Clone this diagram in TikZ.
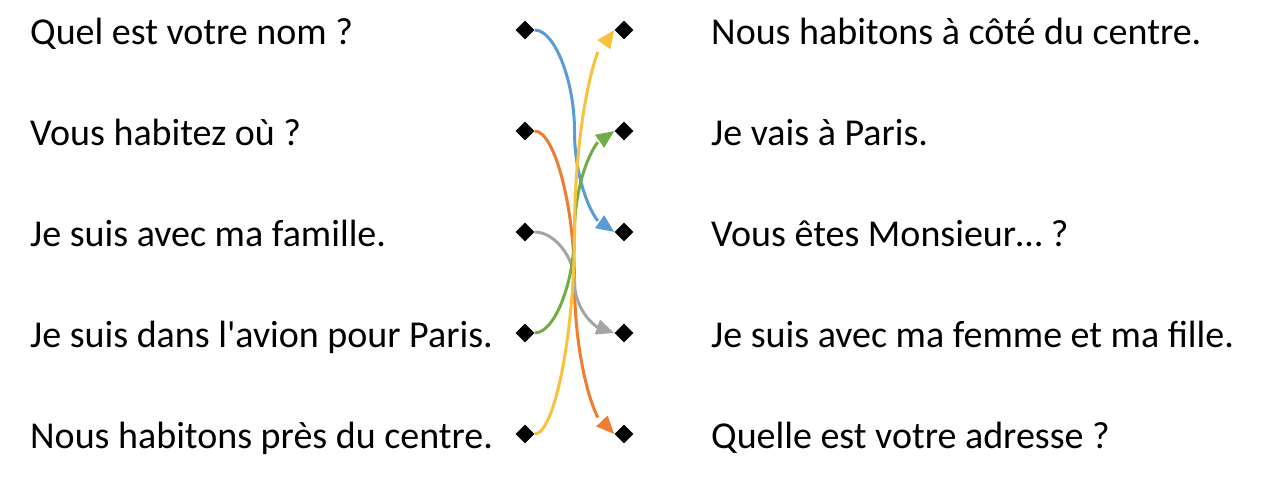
\documentclass[tikz,border=0pt]{standalone}
\usepackage{fontspec}
\setmainfont{Carlito}[Ligatures=TeXOff]
\usepackage{tikz}
\usetikzlibrary{arrows.meta,bending,calc,shapes.geometric}
\definecolor{lnblue}{HTML}{5B9BD5}
\definecolor{lnorange}{HTML}{ED7D31}
\definecolor{lngray}{HTML}{A5A5A5}
\definecolor{lngreen}{HTML}{70AD47}
\definecolor{lnyellow}{HTML}{F9C23C}

\begin{document}
\begin{tikzpicture}[x=1pt,y=-1pt,
  txt/.style={anchor=base west,inner sep=0pt,font=\fontsize{38}{46}\selectfont},
  dot/.style={diamond,fill=black,inner sep=0pt,minimum size=19pt},
  link/.style={-{Triangle[length=18pt,width=15pt,flex]},line width=3pt,
    to path={let \p1=(\tikztostart),\p2=(\tikztotarget) in
      .. controls ({(3*\x1+\x2)/4},\y1) and ({(\x1+\x2)/2},{(3*\y1+\y2)/4}) .. ({(\x1+\x2)/2},{(\y1+\y2)/2})
      .. controls ({(\x1+\x2)/2},{(\y1+3*\y2)/4}) and ({(\x1+3*\x2)/4},\y2) .. (\tikztotarget)}}]
  \useasboundingbox (0,0) rectangle (1274,488);
  % questions
  \node[txt] (q1) at (30,44) {Quel est votre nom ?};
  \node[txt] (q2) at (30,145) {Vous habitez où ?};
  \node[txt] (q3) at (30,246) {Je suis avec ma famille.};
  \node[txt] (q4) at (30,347) {Je suis dans l'avion pour Paris.};
  \node[txt] (q5) at (30,448) {Nous habitons près du centre.};
  % answers
  \node[txt] (a1) at (711,44) {Nous habitons à côté du centre.};
  \node[txt] (a2) at (711,145) {Je vais à Paris.};
  \node[txt] (a3) at (711,246) {Vous êtes Monsieur… ?};
  \node[txt] (a4) at (711,347) {Je suis avec ma femme et ma fille.};
  \node[txt] (a5) at (711,448) {Quelle est votre adresse ?};
  % diamonds
  \node[dot] (l1) at (525,30) {};
  \node[dot] (l2) at (525,131) {};
  \node[dot] (l3) at (525,232) {};
  \node[dot] (l4) at (525,333) {};
  \node[dot] (l5) at (525,434) {};
  \node[dot] (r1) at (624,30) {};
  \node[dot] (r2) at (624,131) {};
  \node[dot] (r3) at (624,232) {};
  \node[dot] (r4) at (624,333) {};
  \node[dot] (r5) at (624,434) {};
  % links
  \draw[link,lnblue] (l1.east) to (r3.west);
  \draw[link,lnorange] (l2.east) to (r5.west);
  \draw[link,lngray] (l3.east) to (r4.west);
  \draw[link,lngreen] (l4.east) to (r2.west);
  \draw[link,lnyellow] (l5.east) to (r1.west);
\end{tikzpicture}
\end{document}
